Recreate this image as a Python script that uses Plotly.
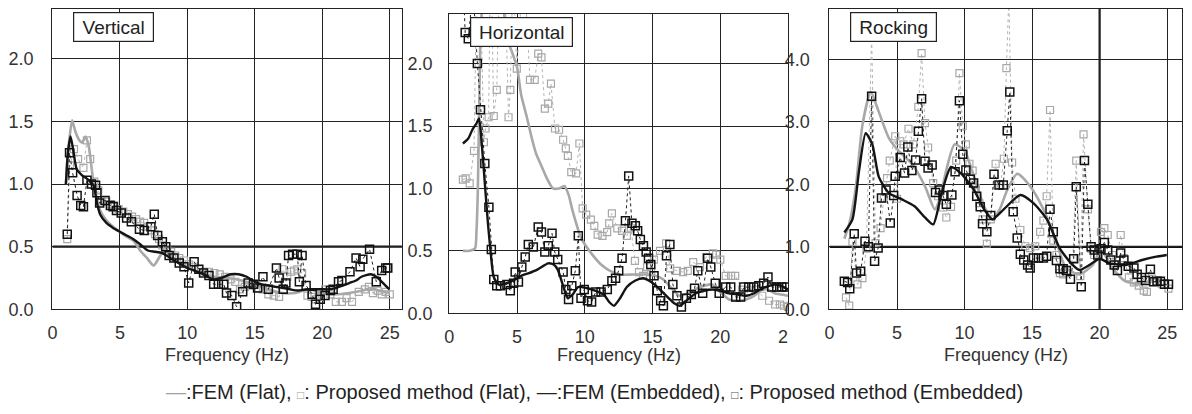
import plotly.graph_objects as go

# ---------------- DATA ----------------
# Panel 1: Vertical
V_fem_flat_f = [1.0, 1.2, 1.46, 1.7, 2.0, 2.2, 2.45, 2.7, 3.0, 3.5, 4.0, 4.5, 5.0, 5.5, 6.0, 6.5, 7.0, 7.5, 8.0, 8.3, 9.0, 10.0, 11.0, 12.0, 13.0, 14.0, 15.0, 16.0, 17.0, 18.0, 19.0, 20.0, 21.0, 22.0, 23.0, 23.6, 24.2, 25.0]
V_fem_flat_v = [1.0, 1.3, 1.51, 1.42, 1.35, 1.33, 1.38, 1.3, 1.05, 0.8, 0.71, 0.66, 0.62, 0.58, 0.55, 0.47, 0.41, 0.35, 0.43, 0.47, 0.41, 0.34, 0.29, 0.26, 0.25, 0.23, 0.2, 0.16, 0.13, 0.13, 0.16, 0.13, 0.12, 0.13, 0.15, 0.17, 0.15, 0.13]
V_fem_emb_f = [1.0, 1.15, 1.34, 1.5, 1.8, 2.2, 2.6, 3.05, 3.3, 3.53, 4.0, 4.5, 5.0, 5.5, 6.0, 6.5, 7.07, 7.6, 8.1, 8.6, 9.0, 9.5, 10.0, 10.5, 11.0, 11.5, 11.9, 12.5, 13.2, 13.8, 14.4, 15.0, 15.5, 16.0, 16.5, 17.1, 17.6, 18.2, 18.9, 19.5, 20.0, 20.5, 21.0, 21.5, 22.0, 22.5, 22.9, 23.6, 24.0, 24.5, 24.97]
V_fem_emb_v = [1.0, 1.25, 1.38, 1.3, 1.12, 1.07, 1.04, 0.99, 0.85, 0.76, 0.69, 0.65, 0.62, 0.59, 0.56, 0.52, 0.47, 0.46, 0.45, 0.42, 0.39, 0.36, 0.33, 0.31, 0.29, 0.26, 0.24, 0.25, 0.28, 0.28, 0.26, 0.22, 0.2, 0.19, 0.18, 0.17, 0.16, 0.15, 0.16, 0.16, 0.16, 0.16, 0.17, 0.19, 0.21, 0.23, 0.26, 0.28, 0.26, 0.21, 0.16]
V_pm_flat_f = [1.1, 1.3, 1.6, 1.9, 2.3, 2.56, 2.8, 3.1, 3.4, 3.65, 4.0, 4.3, 4.6, 4.9, 5.25, 5.6, 5.9, 6.2, 6.5, 6.8, 7.05, 7.3, 7.6, 7.9, 8.15, 8.5, 8.8, 9.1, 9.4, 9.75, 10.1, 10.5, 10.85, 11.2, 11.6, 12.0, 12.4, 12.8, 13.2, 13.55, 13.9, 14.25, 14.6, 14.95, 15.3, 15.6, 16.0, 16.4, 16.8, 17.05, 17.4, 17.7, 17.9, 18.15, 18.5, 18.9, 19.2, 19.5, 19.85, 20.2, 20.6, 21.0, 21.45, 21.8, 22.2, 22.7, 23.15, 23.45, 23.75, 24.1, 24.4, 24.7, 25.0]
V_pm_flat_v = [0.56, 1.15, 1.28, 1.2, 1.13, 1.35, 1.2, 1.02, 0.95, 0.87, 0.86, 0.84, 0.83, 0.8, 0.78, 0.76, 0.74, 0.72, 0.7, 0.69, 0.66, 0.63, 0.6, 0.56, 0.51, 0.48, 0.46, 0.43, 0.41, 0.39, 0.36, 0.34, 0.32, 0.3, 0.3, 0.29, 0.28, 0.26, 0.24, 0.22, 0.16, 0.18, 0.19, 0.2, 0.17, 0.16, 0.12, 0.11, 0.1, 0.32, 0.26, 0.3, 0.31, 0.32, 0.29, 0.11, 0.1, 0.08, 0.1, 0.16, 0.12, 0.06, 0.06, 0.09, 0.06, 0.14, 0.16, 0.18, 0.13, 0.15, 0.12, 0.14, 0.12]
V_pm_emb_f = [1.1, 1.27, 1.5, 1.83, 2.1, 2.3, 2.56, 2.9, 3.2, 3.3, 3.5, 3.9, 4.3, 4.5, 4.75, 5.1, 5.5, 5.85, 6.45, 6.8, 7.3, 7.55, 7.8, 8.15, 8.4, 8.65, 9.0, 9.4, 9.75, 10.1, 10.5, 10.85, 11.2, 11.6, 11.95, 12.3, 12.7, 12.9, 13.3, 13.65, 14.1, 14.5, 14.9, 15.2, 15.6, 16.0, 16.6, 16.8, 17.1, 17.3, 17.5, 17.8, 18.15, 18.3, 18.5, 18.8, 19.25, 19.5, 19.85, 20.2, 20.6, 20.8, 21.2, 21.45, 22.05, 22.5, 22.8, 23.0, 23.5, 24.0, 24.4, 24.7, 24.85]
V_pm_emb_v = [0.6, 1.25, 1.09, 0.91, 0.83, 0.82, 1.03, 1.0, 0.99, 0.93, 0.85, 0.87, 0.83, 0.82, 0.79, 0.77, 0.73, 0.7, 0.64, 0.63, 0.66, 0.76, 0.59, 0.54, 0.5, 0.43, 0.41, 0.37, 0.34, 0.21, 0.38, 0.32, 0.29, 0.27, 0.2, 0.2, 0.2, 0.13, 0.11, 0.02, 0.14, 0.21, 0.2, 0.17, 0.26, 0.16, 0.33, 0.25, 0.16, 0.21, 0.43, 0.44, 0.44, 0.22, 0.43, 0.19, 0.12, 0.04, 0.08, 0.11, 0.15, 0.16, 0.22, 0.23, 0.3, 0.41, 0.34, 0.4, 0.48, 0.22, 0.31, 0.33, 0.33]

# Panel 2: Horizontal
H_fem_flat_f = [1.0, 1.5, 1.9, 2.0, 2.1, 2.2, 2.3, 2.6, 3.0, 3.5, 4.0, 4.25, 4.6, 5.0, 5.3, 5.7, 6.07, 6.4, 6.8, 7.2, 7.65, 8.1, 8.5, 8.8, 9.1, 9.7, 10.2, 10.7, 11.2, 11.7, 12.6, 13.6, 14.6, 15.2, 15.8, 16.4, 17.0, 17.8, 18.5, 19.4, 20.0, 20.65, 21.3, 21.9, 22.5, 23.1, 23.5, 24.0, 24.5, 25.0]
H_fem_flat_v = [0.5, 0.5, 0.52, 0.65, 0.97, 1.6, 2.2, 2.7, 2.9, 2.8, 2.45, 2.2, 2.1, 1.97, 1.75, 1.58, 1.41, 1.28, 1.18, 1.08, 1.0, 1.0, 1.02, 0.95, 0.82, 0.61, 0.52, 0.45, 0.39, 0.35, 0.31, 0.31, 0.31, 0.3, 0.27, 0.2, 0.14, 0.17, 0.21, 0.23, 0.17, 0.11, 0.1, 0.11, 0.14, 0.19, 0.19, 0.16, 0.15, 0.14]
H_fem_emb_f = [1.0, 1.4, 1.7, 2.0, 2.19, 2.4, 2.67, 2.85, 3.04, 3.28, 3.64, 4.2, 4.86, 5.3, 5.83, 6.5, 7.29, 7.7, 8.0, 8.4, 8.75, 9.1, 9.5, 10.2, 10.8, 11.4, 11.8, 12.15, 12.6, 13.1, 13.7, 14.3, 14.9, 15.55, 16.2, 16.6, 17.0, 17.6, 18.2, 18.8, 19.4, 20.0, 20.65, 21.3, 21.9, 22.5, 23.1, 23.6, 24.05, 24.5, 25.0]
H_fem_emb_v = [1.36, 1.4, 1.47, 1.52, 1.56, 1.35, 0.97, 0.72, 0.5, 0.29, 0.23, 0.24, 0.27, 0.3, 0.32, 0.35, 0.4, 0.39, 0.35, 0.22, 0.12, 0.15, 0.21, 0.2, 0.18, 0.15, 0.09, 0.06, 0.12, 0.21, 0.26, 0.28, 0.25, 0.19, 0.12, 0.08, 0.06, 0.11, 0.16, 0.18, 0.19, 0.18, 0.16, 0.15, 0.14, 0.16, 0.2, 0.22, 0.23, 0.22, 0.19]
H_pm_flat_f = [1.0, 1.2, 1.5, 1.82, 2.05, 2.3, 2.55, 2.67, 2.9, 3.05, 3.28, 3.5, 3.7, 3.9, 4.1, 4.37, 4.5, 4.7, 4.98, 5.3, 5.6, 5.95, 6.3, 6.56, 6.8, 7.05, 7.3, 7.5, 7.8, 8.1, 8.4, 8.6, 8.75, 9.0, 9.35, 9.6, 9.84, 10.1, 10.45, 10.7, 10.95, 11.3, 11.65, 11.8, 12.0, 12.4, 12.75, 13.1, 13.4, 13.7, 14.0, 14.3, 14.6, 14.9, 15.1, 15.55, 16.0, 16.3, 16.8, 17.25, 17.6, 18.0, 18.5, 18.95, 19.45, 19.7, 20.0, 20.4, 20.8, 21.1, 21.6, 22.1, 22.6, 23.1, 23.6, 24.05, 24.4, 24.7, 25.0]
H_pm_flat_v = [1.07, 1.08, 1.04, 1.3, 2.9, 2.6, 1.37, 1.48, 1.57, 3.0, 1.58, 1.79, 2.8, 3.1, 2.7, 1.57, 1.79, 2.8, 1.96, 2.5, 2.6, 1.87, 1.87, 2.08, 2.05, 1.64, 1.68, 1.84, 1.48, 1.47, 1.39, 1.32, 1.26, 1.13, 1.12, 1.36, 0.84, 0.79, 0.75, 0.7, 0.63, 0.62, 0.65, 0.72, 0.8, 0.68, 0.66, 0.62, 0.68, 0.42, 0.33, 0.3, 0.37, 0.33, 0.43, 0.5, 0.56, 0.36, 0.34, 0.33, 0.34, 0.41, 0.37, 0.45, 0.48, 0.47, 0.43, 0.3, 0.3, 0.3, 0.19, 0.16, 0.19, 0.14, 0.1, 0.07, 0.07, 0.06, 0.05]
H_pm_emb_f = [1.0, 1.17, 1.4, 1.75, 2.07, 2.3, 2.62, 2.92, 3.1, 3.28, 3.5, 3.77, 4.25, 4.5, 4.74, 4.86, 5.1, 5.35, 5.6, 5.83, 6.2, 6.56, 6.8, 7.05, 7.3, 7.58, 7.78, 8.0, 8.4, 8.6, 8.8, 9.04, 9.3, 9.52, 9.72, 9.96, 10.2, 10.5, 10.8, 11.2, 11.66, 12.0, 12.27, 12.5, 12.75, 13.0, 13.24, 13.48, 13.73, 13.9, 14.1, 14.33, 14.53, 14.7, 14.87, 15.11, 15.35, 15.6, 15.8, 16.03, 16.28, 16.5, 16.8, 17.13, 17.5, 17.86, 18.1, 18.34, 18.7, 19.07, 19.3, 19.63, 19.92, 20.4, 20.77, 21.14, 21.5, 21.74, 22.1, 22.47, 22.84, 23.2, 23.52, 23.8, 24.17, 24.54, 24.9]
H_pm_emb_v = [2.7, 2.25, 2.2, 2.6, 2.0, 1.63, 1.2, 0.85, 0.51, 0.27, 0.22, 0.22, 0.23, 0.18, 0.24, 0.33, 0.25, 0.37, 0.45, 0.55, 0.53, 0.69, 0.65, 0.49, 0.54, 0.64, 0.49, 0.43, 0.33, 0.19, 0.11, 0.22, 0.34, 0.62, 0.12, 0.19, 0.1, 0.09, 0.17, 0.17, 0.19, 0.26, 0.28, 0.34, 0.44, 0.74, 1.1, 0.72, 0.7, 0.66, 0.59, 0.54, 0.49, 0.44, 0.39, 0.3, 0.18, 0.1, 0.06, 0.46, 0.55, 0.23, 0.14, 0.05, 0.12, 0.15, 0.2, 0.34, 0.16, 0.44, 0.37, 0.24, 0.16, 0.21, 0.21, 0.13, 0.13, 0.21, 0.21, 0.21, 0.22, 0.24, 0.29, 0.21, 0.21, 0.21, 0.21]

# Panel 3: Rocking
R_fem_flat_f = [1.1, 1.5, 1.95, 2.44, 3.05, 3.65, 4.4, 5.1, 6.1, 7.07, 7.8, 8.2, 8.65, 9.26, 10.0, 10.7, 11.45, 12.06, 12.6, 13.16, 13.9, 14.86, 15.84, 16.8, 17.5, 18.5, 19.5, 20.1, 20.95, 21.9, 23.15, 24.1, 24.97]
R_fem_flat_v = [1.13, 1.4, 1.96, 2.95, 3.48, 3.16, 2.74, 2.54, 2.33, 1.97, 1.6, 1.8, 2.23, 2.64, 2.54, 2.12, 1.65, 1.44, 1.6, 1.91, 2.17, 1.97, 1.6, 1.08, 0.66, 0.56, 0.71, 0.95, 0.66, 0.45, 0.4, 0.5, 0.45]
R_fem_emb_f = [1.1, 1.7, 2.19, 2.68, 3.17, 3.65, 4.4, 5.36, 6.3, 7.07, 7.68, 8.3, 9.0, 9.75, 10.7, 11.45, 12.06, 12.9, 14.13, 15.1, 16.1, 17.06, 18.0, 18.5, 19.25, 20.0, 20.7, 21.9, 23.15, 24.1, 24.97]
R_fem_emb_v = [1.23, 1.44, 2.22, 2.82, 2.64, 2.12, 1.86, 1.76, 1.65, 1.47, 1.36, 1.86, 2.28, 2.17, 1.91, 1.6, 1.44, 1.6, 1.83, 1.7, 1.44, 0.97, 0.71, 0.63, 0.71, 0.81, 0.74, 0.71, 0.79, 0.84, 0.87]
R_pm_flat_f = [1.22, 1.46, 1.7, 2.07, 2.44, 2.73, 3.12, 3.41, 3.78, 4.02, 4.26, 4.46, 4.87, 5.0, 5.24, 5.48, 5.85, 6.21, 6.58, 6.82, 7.07, 7.3, 7.68, 8.04, 8.4, 8.65, 9.0, 9.38, 9.62, 9.87, 10.1, 10.36, 10.6, 10.84, 11.09, 11.33, 11.65, 11.94, 12.3, 12.67, 12.91, 13.1, 13.28, 13.52, 13.77, 14.13, 14.5, 14.86, 15.23, 15.6, 15.84, 16.08, 16.33, 16.57, 16.8, 17.06, 17.3, 17.54, 18.03, 18.27, 18.57, 18.81, 19.13, 19.37, 19.6, 19.86, 20.1, 20.35, 20.6, 20.95, 21.25, 21.56, 21.8, 22.17, 22.54, 22.9, 23.27, 23.5, 23.88, 24.25, 24.6, 25.1]
R_pm_flat_v = [0.19, 0.06, 1.08, 0.4, 0.5, 0.97, 4.4, 1.06, 1.3, 1.77, 2.1, 2.38, 2.77, 1.77, 2.69, 2.64, 2.89, 2.64, 3.24, 4.1, 2.98, 2.59, 2.02, 1.81, 1.63, 1.47, 1.64, 2.38, 3.78, 2.93, 2.64, 2.33, 2.22, 1.94, 1.7, 1.44, 1.05, 1.44, 2.33, 1.99, 2.41, 3.86, 5.0, 2.35, 1.77, 1.27, 1.01, 0.98, 1.01, 1.24, 1.42, 1.81, 3.19, 1.1, 0.87, 0.58, 0.56, 0.58, 0.82, 2.38, 0.53, 2.8, 1.6, 0.97, 0.87, 0.87, 1.24, 1.3, 1.19, 0.87, 0.79, 1.19, 0.82, 0.51, 0.43, 0.38, 0.3, 0.28, 0.49, 0.44, 0.41, 0.33]
R_pm_emb_f = [1.1, 1.34, 1.5, 1.83, 2.0, 2.31, 2.63, 2.88, 3.12, 3.34, 3.6, 3.85, 4.19, 4.5, 4.75, 4.87, 5.24, 5.56, 5.8, 6.1, 6.38, 6.58, 6.82, 7.07, 7.3, 7.6, 7.85, 8.16, 8.4, 8.65, 9.06, 9.3, 9.62, 9.87, 10.1, 10.43, 10.67, 10.9, 11.16, 11.33, 11.65, 11.94, 12.18, 12.55, 12.87, 13.16, 13.35, 13.6, 13.9, 14.13, 14.38, 14.67, 14.86, 15.1, 15.47, 15.84, 16.08, 16.33, 16.57, 16.8, 17.06, 17.3, 17.54, 17.84, 18.08, 18.27, 18.64, 18.88, 19.13, 19.37, 19.6, 19.86, 20.1, 20.35, 20.6, 20.83, 21.08, 21.32, 21.56, 21.8, 22.12, 22.54, 22.78, 23.1, 23.4, 23.76, 24.0, 24.25, 24.5, 24.8, 25.1]
R_pm_emb_v = [0.45, 0.43, 0.33, 1.21, 0.58, 0.61, 1.09, 1.0, 3.41, 0.77, 0.98, 1.78, 1.91, 1.38, 1.82, 2.13, 2.43, 2.18, 2.6, 2.22, 2.39, 2.85, 3.37, 2.37, 2.26, 2.31, 1.87, 1.91, 1.82, 1.68, 1.83, 2.2, 3.34, 2.48, 2.23, 2.08, 2.02, 1.81, 1.64, 1.37, 1.24, 1.5, 2.16, 1.99, 1.99, 2.86, 3.48, 1.56, 1.14, 0.88, 0.79, 0.71, 0.66, 0.82, 0.82, 0.82, 0.85, 1.6, 1.24, 0.78, 0.65, 0.65, 0.62, 0.48, 0.81, 1.96, 0.36, 2.38, 1.68, 1.0, 0.95, 0.87, 0.97, 1.07, 0.95, 0.79, 0.71, 0.62, 0.9, 0.79, 0.69, 0.66, 0.56, 0.51, 0.46, 0.64, 0.44, 0.45, 0.45, 0.4, 0.4]

X_TICKS = [0, 5, 10, 15, 20, 25]
X_TICKTEXT_MID = ["0", "5", "10", "15", "20", "2\u2007"]
Y1_TICKS = [0.0, 0.5, 1.0, 1.5, 2.0]
Y1_TEXT = ["0.0", "0.5", "1.0", "1.5", "2.0"]
Y3_TICKS = [0.0, 1.0, 2.0, 3.0, 4.0]
Y3_TEXT = ["0.0", "1.0", "2.0", "3.0", "4.0"]
PANEL_NAMES = ["Vertical", "Horizontal", "Rocking"]
XTITLE = "Frequency (Hz)"
LEGEND_TEXT = ("<span style='color:#a0a0a0'>—</span>:FEM (Flat), "
               "<span style='color:#a0a0a0;font-size:12px'>□</span>: Proposed method (Flat), "
               "—:FEM (Embedded), "
               "<span style='font-size:12px;color:#555'>□</span>: Proposed method (Embedded)")

# ---------------- FIGURE ----------------
W, H = 1192, 414
GRAY = "#a8a8a8"
BLACK = "#141414"
FONT = "Liberation Sans, Arial, sans-serif"

# pixel boxes of the three plot areas (left, right, top, bottom)
boxes = [(48, 402, 9, 317), (450, 793, 14, 321), (835, 1192, 9, 317)]

fig = go.Figure()

panels = [
    (V_fem_flat_f, V_fem_flat_v, V_pm_flat_f, V_pm_flat_v, V_fem_emb_f, V_fem_emb_v, V_pm_emb_f, V_pm_emb_v),
    (H_fem_flat_f, H_fem_flat_v, H_pm_flat_f, H_pm_flat_v, H_fem_emb_f, H_fem_emb_v, H_pm_emb_f, H_pm_emb_v),
    (R_fem_flat_f, R_fem_flat_v, R_pm_flat_f, R_pm_flat_v, R_fem_emb_f, R_fem_emb_v, R_pm_emb_f, R_pm_emb_v),
]

for i, p in enumerate(panels):
    xa = "x" if i == 0 else f"x{i+1}"
    ya = "y" if i == 0 else f"y{i+1}"
    ff, fv, pf, pv, ef, ev, qf, qv = p
    fig.add_trace(go.Scatter(x=ff, y=fv, mode="lines", line=dict(color=GRAY, width=2.6, shape="spline", smoothing=0.6),
                             xaxis=xa, yaxis=ya, showlegend=False, hoverinfo="skip"))
    fig.add_trace(go.Scatter(x=pf, y=pv, mode="lines+markers", line=dict(color="#b4b4b4", width=1, dash="dot"),
                             marker=dict(symbol="square-open", size=7, color="#a8a8a8", line=dict(width=1.2)),
                             xaxis=xa, yaxis=ya, showlegend=False, hoverinfo="skip"))
    fig.add_trace(go.Scatter(x=ef, y=ev, mode="lines", line=dict(color=BLACK, width=2.4, shape="spline", smoothing=0.6),
                             xaxis=xa, yaxis=ya, showlegend=False, hoverinfo="skip"))
    fig.add_trace(go.Scatter(x=qf, y=qv, mode="lines+markers", line=dict(color="#222", width=1, dash="dot"),
                             marker=dict(symbol="square-open", size=8, color="#111", line=dict(width=1.5)),
                             xaxis=xa, yaxis=ya, showlegend=False, hoverinfo="skip"))

common_axis = dict(showline=True, mirror=True, linecolor="#222", linewidth=1.3,
                   showgrid=True, gridcolor="#222", gridwidth=1, zeroline=False,
                   ticks="", tickfont=dict(family=FONT, size=18, color="#333"))

xranges = [[0, 25.9], [0, 25], [0, 26.1]]
yranges = [[0, 2.4], [0, 2.4], [0, 4.81]]
ystand = [14, 12, 15]
layout = dict(width=W, height=H, margin=dict(l=0, r=0, t=0, b=0),
              paper_bgcolor="white", plot_bgcolor="white", showlegend=False,
              font=dict(family=FONT, color="#222"))
for i, (l, r, t, b) in enumerate(boxes):
    kx = "xaxis" if i == 0 else f"xaxis{i+1}"
    ky = "yaxis" if i == 0 else f"yaxis{i+1}"
    xa = dict(common_axis, domain=[l / W, r / W], range=xranges[i], tickvals=X_TICKS,
              ticktext=X_TICKTEXT_MID if i == 1 else [str(v) for v in X_TICKS],
              anchor="y" if i == 0 else f"y{i+1}", ticklabelstandoff=7)
    ya = dict(common_axis, domain=[1 - b / H, 1 - t / H], range=yranges[i],
              tickvals=Y3_TICKS if i == 2 else Y1_TICKS, ticktext=Y3_TEXT if i == 2 else Y1_TEXT,
              anchor="x" if i == 0 else f"x{i+1}", ticklabelstandoff=ystand[i])
    layout[kx] = xa
    layout[ky] = ya
fig.update_layout(**layout)

# bold reference lines
fig.add_shape(type="line", xref="x", yref="y", x0=0, x1=25.9, y0=0.5, y1=0.5, line=dict(color="#111", width=2.2), layer="below")
fig.add_shape(type="line", xref="x3", yref="y3", x0=0, x1=26.1, y0=1.0, y1=1.0, line=dict(color="#111", width=2.2), layer="below")
fig.add_shape(type="line", xref="x3", yref="y3", x0=20, x1=20, y0=0, y1=4.81, line=dict(color="#111", width=2.2), layer="below")

# panel labels (center x, center y, box width, box height) in pixels
label_pos = [(109.5, 28, 81, 30), (523.5, 33, 103, 30), (899.5, 28, 87, 30)]
for name, (cx, cy, bw, bh) in zip(PANEL_NAMES, label_pos):
    fig.add_annotation(x=cx / W, y=1 - cy / H, xref="paper", yref="paper", text=name, showarrow=False,
                       font=dict(family=FONT, size=19, color="#222"), bgcolor="white",
                       width=bw - 4, height=bh - 4, align="center", valign="middle",
                       bordercolor="#222", borderwidth=1.2, borderpad=1, xanchor="center", yanchor="middle")

# axis titles
for (l, r, t, b) in boxes:
    fig.add_annotation(x=(l + r) / 2 / W, y=1 - 364 / H, xref="paper", yref="paper", text=XTITLE,
                       showarrow=False, font=dict(family=FONT, size=18, color="#333"),
                       xanchor="center", yanchor="middle")

# bottom legend text
fig.add_annotation(x=597 / W, y=1 - 402 / H, xref="paper", yref="paper", text=LEGEND_TEXT, showarrow=False,
                   font=dict(family=FONT, size=20, color="#222"), xanchor="center", yanchor="middle")

fig.write_html("out.html", config={"displayModeBar": False},
               post_script="document.body.style.margin='0';document.body.style.overflow='hidden';")
